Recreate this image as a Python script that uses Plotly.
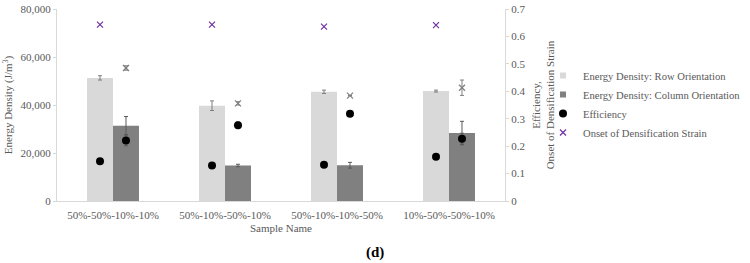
import plotly.graph_objects as go

categories = ["50%-50%-10%-10%", "50%-10%-50%-10%", "50%-10%-10%-50%", "10%-50%-50%-10%"]
energy_row = [51300, 39700, 45500, 45800]
energy_row_err = [900, 2000, 700, 400]
energy_col = [31400, 14800, 14900, 28300]
energy_col_err = [3800, 500, 1200, 4900]
eff_row = [0.145, 0.129, 0.132, 0.161]
eff_col = [0.221, 0.276, 0.318, 0.227]
eff_col_err = [0.02, 0.012, 0.0, 0.02]
onset_row = [0.643, 0.643, 0.636, 0.641]
onset_col = [0.485, 0.356, 0.384, 0.413]
onset_col_err = [0.008, 0.006, 0.0, 0.028]

FONT = "Liberation Serif, Times New Roman, serif"
GREY_TXT = "#595959"
AX = "#d9d9d9"
ROW_C = "#d9d9d9"
COL_C = "#808080"
BARGAP = 0.536
off = (1 - BARGAP) / 4
idx = list(range(len(categories)))
x_row = [i - off for i in idx]
x_col = [i + off for i in idx]

fig = go.Figure()
fig.add_trace(go.Bar(x=idx, y=energy_row, name="Energy Density: Row Orientation", showlegend=False,
                     marker=dict(color=ROW_C, line=dict(width=0)),
                     error_y=dict(type="data", array=energy_row_err, color="#7f7f7f", thickness=1, width=2)))
fig.add_trace(go.Bar(x=idx, y=energy_col, name="Energy Density: Column Orientation", showlegend=False,
                     marker=dict(color=COL_C, line=dict(width=0)),
                     error_y=dict(type="data", array=energy_col_err, color="#595959", thickness=1, width=2)))
# legend entries with small square swatches (as in the reference)
fig.add_trace(go.Scatter(x=[None], y=[None], mode="markers", name="Energy Density: Row Orientation",
                         marker=dict(symbol="square", size=6, color=ROW_C)))
fig.add_trace(go.Scatter(x=[None], y=[None], mode="markers", name="Energy Density: Column Orientation",
                         marker=dict(symbol="square", size=6, color=COL_C)))
fig.add_trace(go.Scatter(x=x_row + x_col, y=eff_row + eff_col, yaxis="y2", mode="markers",
                         name="Efficiency",
                         marker=dict(color="black", size=8, symbol="circle"),
                         error_y=dict(type="data", array=[0]*4 + eff_col_err, color="#595959", thickness=1, width=2)))
fig.add_trace(go.Scatter(x=x_row, y=onset_row, yaxis="y2", mode="markers",
                         name="Onset of Densification Strain",
                         marker=dict(color="#7030a0", size=6, symbol="x-thin-open", line=dict(width=1.2, color="#7030a0"))))
fig.add_trace(go.Scatter(x=x_col, y=onset_col, yaxis="y2", mode="markers", showlegend=False,
                         marker=dict(color="#7f7f7f", size=6, symbol="x-thin-open", line=dict(width=1.2, color="#7f7f7f")),
                         error_y=dict(type="data", array=onset_col_err, color="#7f7f7f", thickness=1, width=2)))

fig.update_layout(
    width=750, height=263,
    margin=dict(l=57, r=245, t=9, b=62, autoexpand=False),
    paper_bgcolor="white", plot_bgcolor="white",
    barmode="group", bargap=BARGAP, bargroupgap=0,
    font=dict(family=FONT, size=11, color=GREY_TXT),
    xaxis=dict(tickvals=idx, ticktext=categories, range=[-0.5, 3.5],
               showline=True, linecolor=AX, linewidth=1, ticks="", showgrid=False, zeroline=False,
               ticklabelstandoff=4,
               title=dict(text="Sample Name", font=dict(family=FONT, size=11, color=GREY_TXT), standoff=4),
               tickfont=dict(family=FONT, size=11)),
    yaxis=dict(range=[0, 80000], dtick=20000, tickformat=",", showgrid=False, zeroline=False,
               showline=True, linecolor=AX, ticks="outside", ticklen=3, tickcolor=AX,
               tickfont=dict(family=FONT, size=11),
               title=dict(text="Energy Density (J/m<sup>3</sup>)", font=dict(family=FONT, size=11, color=GREY_TXT), standoff=5)),
    yaxis2=dict(range=[0, 0.7], dtick=0.1, overlaying="y", side="right", showgrid=False, zeroline=False,
                showline=True, linecolor=AX, ticks="outside", ticklen=3, tickcolor=AX,
                tickformat="~g", tickfont=dict(family=FONT, size=11),
                title=dict(text="Efficiency,<br>Onset of Densification Strain", font=dict(family=FONT, size=11, color=GREY_TXT), standoff=7)),
    legend=dict(x=(543 - 57) / 448, y=(201 - 61) / 192, xanchor="left", yanchor="top", bgcolor="rgba(0,0,0,0)",
                font=dict(family=FONT, size=10.6, color=GREY_TXT), itemwidth=30, tracegroupgap=0),
    showlegend=True,
)
fig.add_annotation(text="<b>(d)</b>", x=(375 - 57) / 448, y=-(252 - 201) / 192, xref="paper", yref="paper",
                   showarrow=False, xanchor="center", yanchor="middle",
                   font=dict(family=FONT, size=15, color="black"))
fig.write_html("out.html")
